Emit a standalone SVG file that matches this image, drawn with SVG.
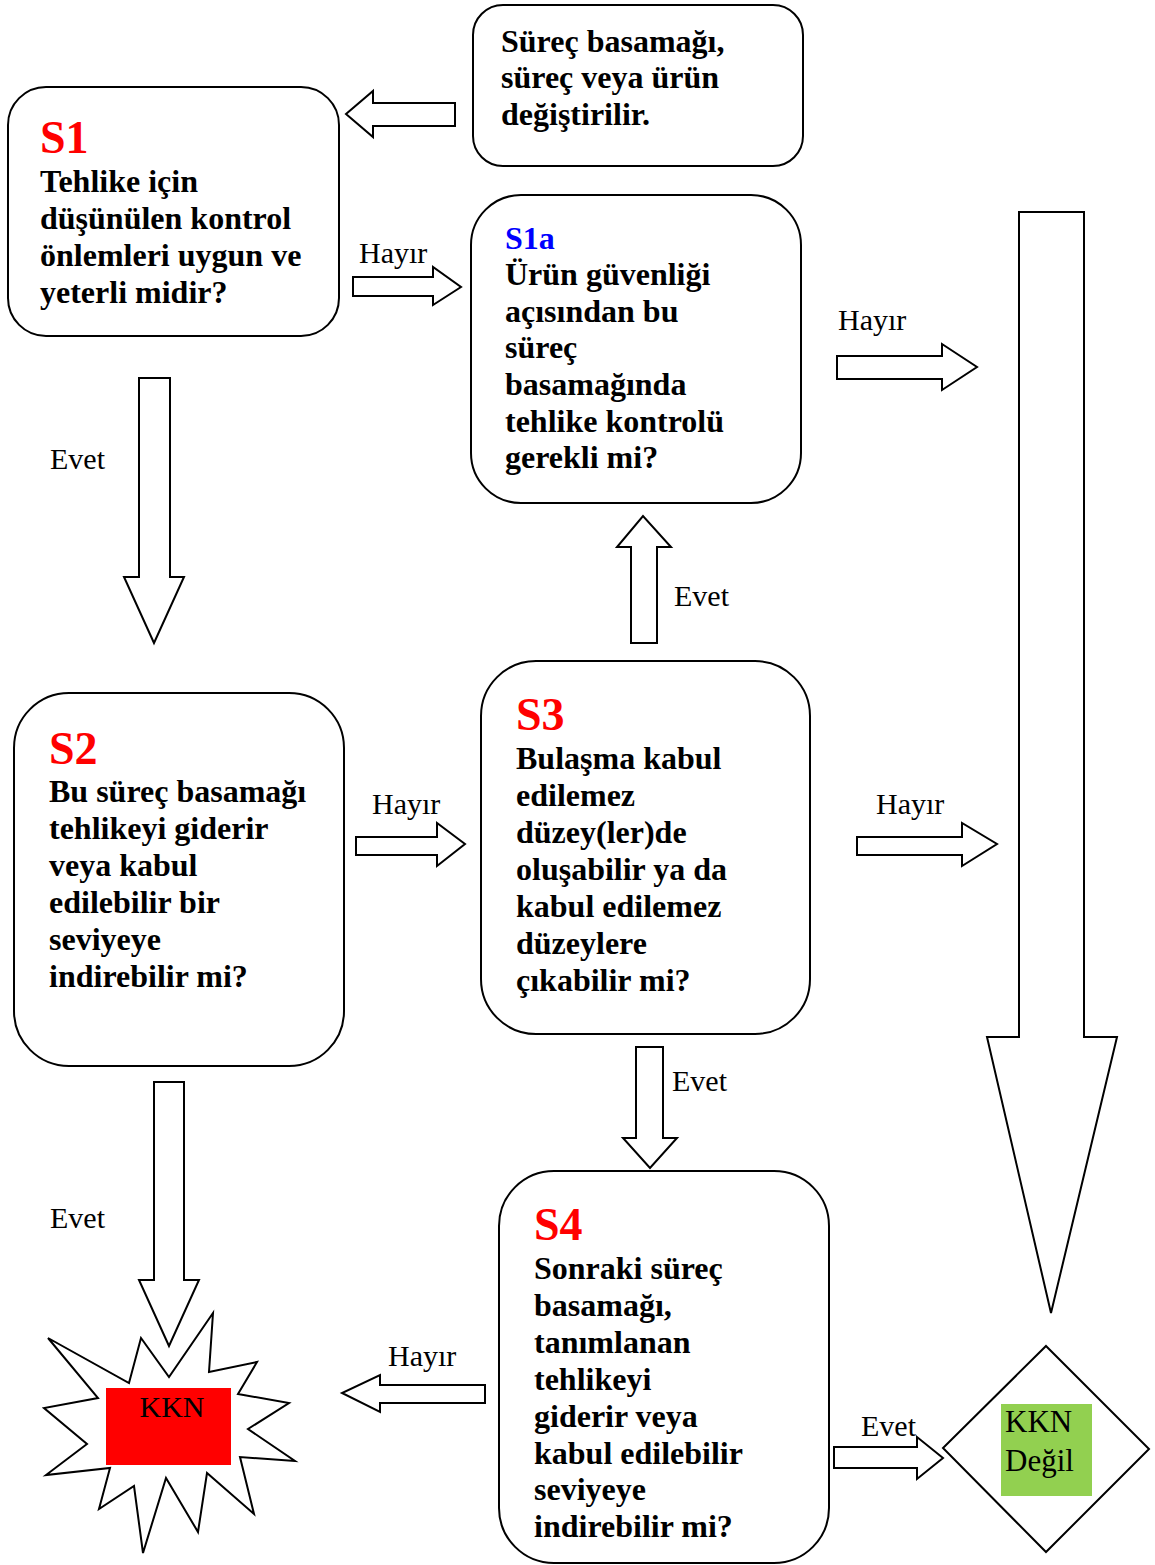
<svg xmlns="http://www.w3.org/2000/svg" width="1155" height="1565" viewBox="0 0 1155 1565">
<style>
.box{fill:#fff;stroke:#000;stroke-width:2}
.arr{fill:#fff;stroke:#000;stroke-width:2;stroke-linejoin:miter}
.t{font-family:"Liberation Serif","Times New Roman",serif;font-weight:bold;font-size:32px;fill:#000}
.h{font-family:"Liberation Serif","Times New Roman",serif;font-weight:bold;font-size:46px;fill:#f00}
.lb{font-family:"Liberation Serif","Times New Roman",serif;font-size:30px;fill:#000}
</style>
<rect width="1155" height="1565" fill="#fff"/>
<g id="connectors">
<path class="arr" d="M455,103 L373,103 L373,91 L346,114 L373,137 L373,126 L455,126 Z"/>
<path class="arr" d="M353,277 L433,277 L433,267 L461,287 L433,305 L433,296 L353,296 Z"/>
<path class="arr" d="M837,356 L942,356 L942,344 L977,367 L942,390 L942,379 L837,379 Z"/>
<path class="arr" d="M1019,212 L1084,212 L1084,1037 L1117,1037 L1051,1313 L987,1037 L1019,1037 Z"/>
<path class="arr" d="M139,378 L170,378 L170,577 L184,577 L154,643 L124,577 L139,577 Z"/>
<path class="arr" d="M631,643 L631,547 L617,547 L643,516 L671,547 L657,547 L657,643 Z"/>
<path class="arr" d="M356,837 L437,837 L437,823 L465,844 L437,866 L437,855 L356,855 Z"/>
<path class="arr" d="M857,837 L962,837 L962,823 L997,844 L962,866 L962,855 L857,855 Z"/>
<path class="arr" d="M636,1047 L663,1047 L663,1138 L677,1138 L650,1168 L623,1138 L636,1138 Z"/>
<path class="arr" d="M485,1385 L380,1385 L380,1375 L342,1393 L380,1412 L380,1403 L485,1403 Z"/>
<path class="arr" d="M834,1447 L917,1447 L917,1437 L943,1458 L917,1479 L917,1468 L834,1468 Z"/>
<text class="lb" x="359" y="263">Hayır</text>
<text class="lb" x="838" y="330">Hayır</text>
<text class="lb" x="50" y="469">Evet</text>
<text class="lb" x="674" y="606">Evet</text>
<text class="lb" x="372" y="814">Hayır</text>
<text class="lb" x="876" y="814">Hayır</text>
<text class="lb" x="672" y="1091">Evet</text>
<text class="lb" x="50" y="1228">Evet</text>
<text class="lb" x="388" y="1366">Hayır</text>
<text class="lb" x="861" y="1436">Evet</text>
</g>
<g id="change">
<rect class="box" x="473" y="5" width="330" height="161" rx="30"/>
<text class="t" x="501" y="52">Süreç basamağı,</text>
<text class="t" x="501" y="88">süreç veya ürün</text>
<text class="t" x="501" y="125">değiştirilir.</text>
</g>
<g id="S1">
<rect class="box" x="8" y="87" width="331" height="249" rx="38"/>
<text class="h" x="40" y="153">S1</text>
<text class="t" x="40" y="192">Tehlike için</text>
<text class="t" x="40" y="229">düşünülen kontrol</text>
<text class="t" x="40" y="266">önlemleri uygun ve</text>
<text class="t" x="40" y="303">yeterli midir?</text>
</g>
<g id="S1a">
<rect class="box" x="471" y="195" width="330" height="308" rx="50"/>
<text class="t" x="505" y="249" fill="#00f" style="fill:#00f">S1a</text>
<text class="t" x="505" y="285">Ürün güvenliği</text>
<text class="t" x="505" y="322">açısından bu</text>
<text class="t" x="505" y="358">süreç</text>
<text class="t" x="505" y="395">basamağında</text>
<text class="t" x="505" y="432">tehlike kontrolü</text>
<text class="t" x="505" y="468">gerekli mi?</text>
</g>
<g id="S2">
<rect class="box" x="14" y="693" width="330" height="373" rx="55"/>
<text class="h" x="49" y="764">S2</text>
<text class="t" x="49" y="802">Bu süreç basamağı</text>
<text class="t" x="49" y="839">tehlikeyi giderir</text>
<text class="t" x="49" y="876">veya kabul</text>
<text class="t" x="49" y="913">edilebilir bir</text>
<text class="t" x="49" y="950">seviyeye</text>
<text class="t" x="49" y="987">indirebilir mi?</text>
</g>
<g id="S3">
<rect class="box" x="481" y="661" width="329" height="373" rx="55"/>
<text class="h" x="516" y="730">S3</text>
<text class="t" x="516" y="769">Bulaşma kabul</text>
<text class="t" x="516" y="806">edilemez</text>
<text class="t" x="516" y="843">düzey(ler)de</text>
<text class="t" x="516" y="880">oluşabilir ya da</text>
<text class="t" x="516" y="917">kabul edilemez</text>
<text class="t" x="516" y="954">düzeylere</text>
<text class="t" x="516" y="991">çıkabilir mi?</text>
</g>
<g id="S4">
<rect class="box" x="499" y="1171" width="330" height="392" rx="55"/>
<text class="h" x="534" y="1240">S4</text>
<text class="t" x="534" y="1279">Sonraki süreç</text>
<text class="t" x="534" y="1316">basamağı,</text>
<text class="t" x="534" y="1353">tanımlanan</text>
<text class="t" x="534" y="1390">tehlikeyi</text>
<text class="t" x="534" y="1427">giderir veya</text>
<text class="t" x="534" y="1464">kabul edilebilir</text>
<text class="t" x="534" y="1500">seviyeye</text>
<text class="t" x="534" y="1537">indirebilir mi?</text>
</g>
<g id="KKN">
<polygon class="box" points="48,1338 129,1383 141,1338 169,1377 213,1313 209,1372 257,1362 238,1394 289,1403 248,1429 295,1461 240,1457 254,1514 207,1473 198,1532 166,1478 143,1553 134,1486 99,1509 110,1468 46,1475 87,1444 44,1408 98,1398"/>
<rect x="106" y="1388" width="125" height="77" fill="#f00"/>
<text class="lb" x="172" y="1417" text-anchor="middle">KKN</text>
</g>
<path class="arr" d="M154,1082 L184,1082 L184,1280 L199,1280 L169,1346 L139,1280 L154,1280 Z"/>
<g id="KKN_Degil">
<polygon class="box" points="1046,1346 1149,1449 1046,1552 943,1448"/>
<rect x="1001" y="1404" width="91" height="92" fill="#92d050"/>
<text class="lb" x="1005" y="1432" style="font-size:31px">KKN</text>
<text class="lb" x="1005" y="1471" style="font-size:31px">Değil</text>
</g>
</svg>
